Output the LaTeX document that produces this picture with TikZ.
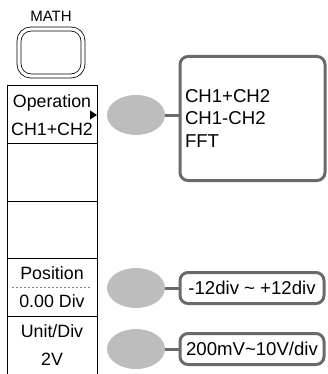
\documentclass[tikz,border=0pt]{standalone}
\usepackage{fontspec}
\setmainfont{Liberation Sans}
\usepackage{xcolor}
\usepackage{tikz}
\usetikzlibrary{positioning,shapes.geometric,arrows.meta}
\definecolor{knobgray}{HTML}{BDBDBD}
\definecolor{wiregray}{HTML}{6A6A6A}

\begin{document}
\begin{tikzpicture}[x=0.5pt,y=-0.5pt,
  every node/.style={font=\fontsize{8.9}{14}\selectfont,align=center,inner sep=0pt,outer sep=0pt},
  keycap/.style={rectangle,draw=black,line width=0.4pt,double=white,double distance=1.6pt,
                 rounded corners=6pt,minimum width=32pt,minimum height=23.5pt},
  cell/.style ={rectangle,draw=black,line width=0.5pt,minimum width=45pt,minimum height=28.8pt},
  knob/.style ={ellipse,fill=knobgray,minimum width=29pt,minimum height=20pt},
  optbox/.style={rectangle,draw=wiregray,line width=1.5pt,rounded corners=4pt,
                 font=\fontsize{9.3}{11.25}\selectfont,inner xsep=2.5pt},
  wire/.style ={draw=wiregray,line width=1.5pt},
  sep/.style  ={draw=gray,line width=0.4pt,dash pattern=on 1pt off 1pt},
]
\useasboundingbox (0,0) rectangle (327,374);

% front panel key
\node[keycap] (mathkey) at (51,52.5) {};
\node[font=\fontsize{7.5}{9}\selectfont,above=3.5pt of mathkey] (mathlbl) {MATH};

% soft menu
\node[cell] (op) at (52,114.8) {Operation\\CH1+CH2};
\node[cell,below=0pt of op] (blankA) {};
\node[cell,below=0pt of blankA] (blankB) {};
\node[cell,below=0pt of blankB] (pos) {Position\\0.00 Div};
\node[cell,below=0pt of pos] (unit) {Unit/Div\\2V};
\draw[sep] ([xshift=2.5pt]pos.west) -- ([xshift=-2.5pt]pos.east);
\fill (90,110.5) -- (97,115) -- (90,119.5) -- cycle;

% knobs
\node[knob] (knobop)   at (136,115) {};
\node[knob] (knobpos)  at (136,288) {};
\node[knob] (knobunit) at (136,349) {};

% choices
\node[optbox,right=7.5pt of knobop,yshift=-1.75pt,text width=67.5pt,align=left,
      minimum height=62pt] (opbox) {CH1+CH2\\CH1-CH2\\FFT};
\node[optbox,right=7.5pt of knobpos,minimum width=72pt,minimum height=15.5pt] (posbox)
      {-12div \textasciitilde{} +12div};
\node[optbox,right=7.5pt of knobunit,minimum width=72pt,minimum height=15.5pt] (unitbox)
      {200mV\textasciitilde 10V/div};

\draw[wire] (knobop.east)   -- (knobop.east -| opbox.west);
\draw[wire] (knobpos.east)  -- (posbox.west);
\draw[wire] (knobunit.east) -- (unitbox.west);
\end{tikzpicture}
\end{document}
